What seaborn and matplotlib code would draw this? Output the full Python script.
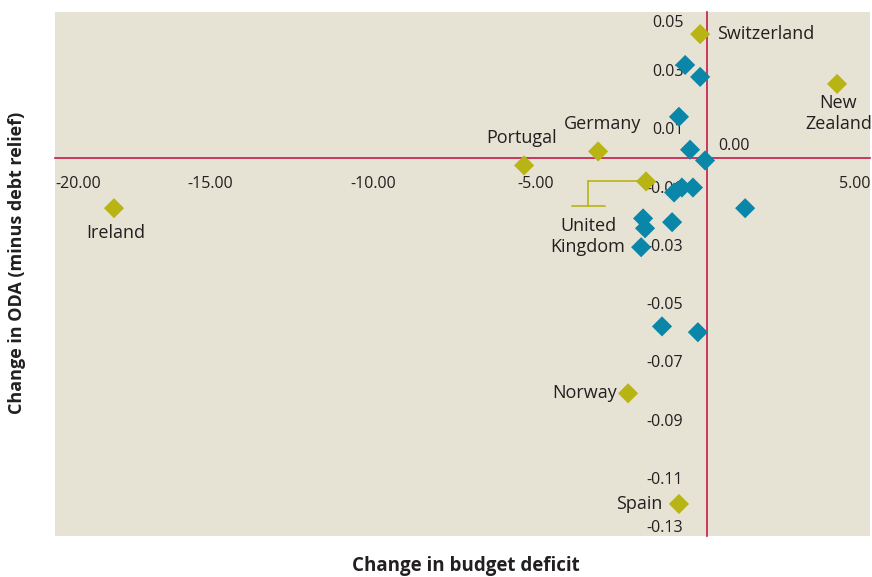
import matplotlib
matplotlib.use("Agg")
import matplotlib.pyplot as plt
import matplotlib.transforms as mtransforms
from matplotlib.lines import Line2D
import seaborn as sns
import pandas as pd

# ---- data ----
labelled_countries = ["Switzerland", "New Zealand", "Portugal", "Germany",
                      "United Kingdom", "Ireland", "Norway", "Spain"]
labelled_deficit = [-0.21, 3.99, -5.61, -3.34, -1.87, -18.19, -2.42, -0.86]
labelled_oda = [0.0424, 0.0253, -0.0027, 0.0021, -0.0082, -0.0174, -0.081, -0.119]

other_deficit = [-0.67, -0.21, -0.86, -0.52, -0.06, -1.01, -0.77, -0.43,
                 1.17, -1.96, -1.90, -1.07, -2.02, -1.38, -0.28]
other_oda = [0.0318, 0.0277, 0.0140, 0.0027, -0.0010, -0.0120, -0.0103, -0.0103,
             -0.0174, -0.0209, -0.0243, -0.0222, -0.0308, -0.0580, -0.0600]

x_ticks = [-20, -15, -10, -5, 5]
x_ticklabels = ["-20.00", "-15.00", "-10.00", "-5.00", "5.00"]
y_ticks = [0.05, 0.03, 0.01, -0.01, -0.03, -0.05, -0.07, -0.09, -0.11, -0.13]
y_ticklabels = ["0.05", "0.03", "0.01", "-0.01", "-0.03", "-0.05", "-0.07",
                "-0.09", "-0.11", "-0.13"]

OLIVE = "#B8B414"
BLUE = "#0A86A8"
BG = "#E6E3D4"
AXIS = "#C51A4A"
TXT = "#231F20"

df = pd.DataFrame({
    "deficit": other_deficit + labelled_deficit,
    "oda": other_oda + labelled_oda,
    "group": ["other"] * len(other_deficit) + ["labelled"] * len(labelled_deficit),
})

sns.set_style("white")
plt.rcParams["font.family"] = ["Open Sans", "DejaVu Sans"]

fig = plt.figure(figsize=(8.72, 5.77), dpi=100)
ax = fig.add_axes([55 / 872, 1 - 536 / 577, 815 / 872, 524 / 577])
ax.set_facecolor(BG)

sns.scatterplot(data=df, x="deficit", y="oda", hue="group",
                palette={"other": BLUE, "labelled": OLIVE},
                marker="D", s=105, linewidth=0, legend=False, zorder=3, ax=ax)

ax.set_xlim(-20, 5)
ax.set_ylim(-0.13, 0.05)

for s in ["top", "right"]:
    ax.spines[s].set_visible(False)
ax.spines["left"].set_position(("data", 0))
ax.spines["bottom"].set_position(("data", 0))
for s in ["left", "bottom"]:
    ax.spines[s].set_color(AXIS)
    ax.spines[s].set_linewidth(1.2)

ax.set_xticks(x_ticks)
ax.set_xticklabels(x_ticklabels)
ax.set_yticks(y_ticks)
ax.set_yticklabels(y_ticklabels)
ax.tick_params(axis="both", colors=AXIS, length=5, width=1.2, direction="out",
               labelcolor=TXT, labelsize=11.5)
ax.tick_params(axis="x", pad=8)
ax.tick_params(axis="y", pad=12)
ax.set_xlabel("")
ax.set_ylabel("")

# x tick label alignment tweaks
xl = ax.get_xticklabels()
for i, t in enumerate(xl):
    if i == 0:
        t.set_ha("left")
    elif i == len(xl) - 1:
        t.set_ha("right")
    else:
        t.set_transform(t.get_transform() +
                        mtransforms.ScaledTranslation(-8 / 100, 0, fig.dpi_scale_trans))
yl = ax.get_yticklabels()
yl[0].set_va("top")
yl[0].set_transform(yl[0].get_transform() +
                    mtransforms.ScaledTranslation(0, -3 / 100, fig.dpi_scale_trans))
yl[-1].set_va("bottom")

# origin label
ax.annotate("0.00", xy=(0, 0), xytext=(8, 8), textcoords="offset points",
            ha="left", va="center", fontsize=11.5, color=TXT)

# country labels (offsets in points relative to each point)
label_specs = {
    "Switzerland": ((12, 0), "left", "center"),
    "New Zealand": ((1, -7), "center", "top"),
    "Portugal": ((-2, 20), "center", "center"),
    "Germany": ((3, 20), "center", "center"),
    "Ireland": ((1, -18), "center", "center"),
    "Norway": ((-8, 0), "right", "center"),
    "Spain": ((-12, 0), "right", "center"),
}
for name, x, y in zip(labelled_countries, labelled_deficit, labelled_oda):
    if name in label_specs:
        off, ha, va = label_specs[name]
        txt = name.replace("New Zealand", "New\nZealand")
        ax.annotate(txt, xy=(x, y), xytext=off, textcoords="offset points",
                    ha=ha, va=va, fontsize=13, color=TXT, linespacing=1.25)

# United Kingdom with leader line (offsets in pixels from the point)
i_uk = labelled_countries.index("United Kingdom")
ux, uy = labelled_deficit[i_uk], labelled_oda[i_uk]
leader_tr = fig.dpi_scale_trans + mtransforms.ScaledTranslation(ux, uy, ax.transData)
for (x0, y0), (x1, y1) in [((-7, 0), (-58, 0)), ((-58, 0), (-58, -25)),
                           ((-74, -25), (-41, -25))]:
    ln = Line2D([x0 / 100, x1 / 100], [y0 / 100, y1 / 100], color=OLIVE,
                lw=1.2, zorder=2.6, transform=leader_tr)
    ax.add_line(ln)
pt = 72 / 100
ax.annotate("United\nKingdom", xy=(ux, uy), xytext=(-58 * pt, -55 * pt),
            textcoords="offset points", ha="center", va="center",
            fontsize=13, color=TXT, linespacing=1.25)

fig.text(466 / 872, 1 - 566 / 577, "Change in budget deficit", ha="center",
         va="center", fontsize=13.5, fontweight="bold", color=TXT)
fig.text(17 / 872, 1 - 263 / 577, "Change in ODA (minus debt relief)", ha="center",
         va="center", rotation=90, fontsize=13, fontweight="bold", color=TXT)

fig.savefig("out.png", dpi=100, facecolor="white")
